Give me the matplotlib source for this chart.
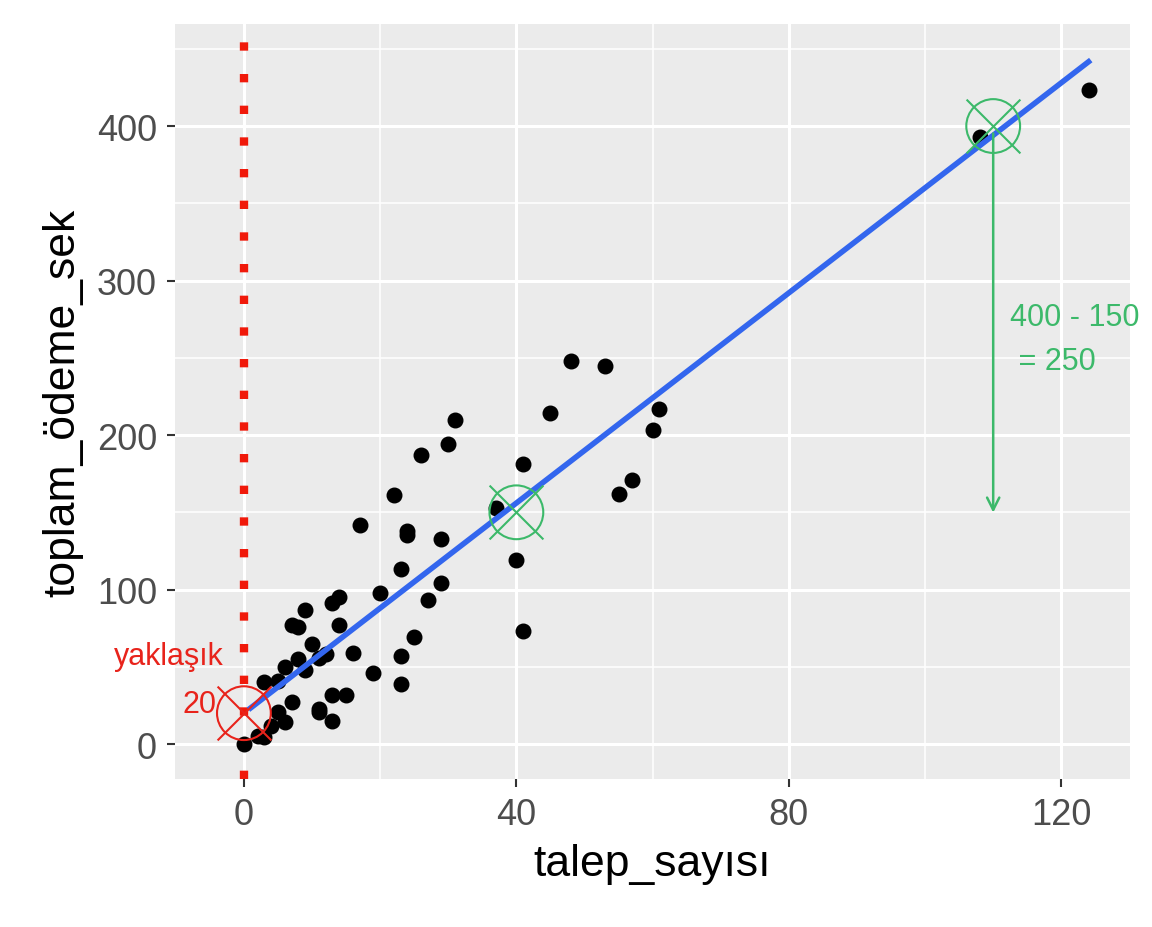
import matplotlib
matplotlib.use("Agg")
import matplotlib.pyplot as plt
import numpy as np

plt.rcParams['font.family'] = ['Liberation Sans', 'DejaVu Sans']

x = [0,3,2,4,6,5,7,3,5,6,8,9,10,11,12,7,8,9,14,13,14,11,11,13,15,13,16,19,20,23,23,25,27,29,23,29,24,24,17,22,26,30,31,37,40,41,41,45,48,53,55,57,61,60,108,124]
y = [0,4.5,5,12,14,21,27,40,41,50,55,48,65,56,58,77,76,87,77,91,95,23,21,32,32,15,59,46,98,39,57,69,93,104,113,133,138,135,142,161,187,194,210,153,119,73,181,214,248,245,162,171,217,203,393,423]
intercept, slope = 20, 3.4
line_x = [1, 124]
marks_x = [0, 40, 110]
marks_y = [20, 150, 400]
marks_c = ["#e8231b", "#3cb96a", "#3cb96a"]

fig = plt.figure(figsize=(11.52, 9.28), dpi=100)
ax = fig.add_axes([0.152, 0.1595, 0.829, 0.8135])
ax.set_facecolor("#ebebeb")
ax.set_xlim(-10.1, 130.1)
ax.set_ylim(-22.6, 466)
ax.set_xticks([0, 40, 80, 120])
ax.set_yticks([0, 100, 200, 300, 400])
ax.set_xticks([20, 60, 100], minor=True)
ax.set_yticks([50, 150, 250, 350, 450], minor=True)
ax.grid(which="major", color="white", lw=2.2)
ax.grid(which="minor", color="white", lw=1.1)
ax.set_axisbelow(True)
for s in ax.spines.values():
    s.set_visible(False)
ax.tick_params(which="major", length=6, width=1.5, color="#333333", labelsize=26,
               labelcolor="#4d4d4d", pad=7)
ax.tick_params(which="minor", length=0)
ax.set_xlabel("talep_sayısı", fontsize=32, labelpad=8)
ax.set_ylabel("toplam_ödeme_sek", fontsize=32, labelpad=10)

ax.axvline(0, color="#f0190a", lw=6, ls=(0, (1, 2.8)), zorder=1)
ax.scatter(x, y, s=110, color="black", zorder=3)
lx = np.array(line_x)
ax.plot(lx, intercept + slope * lx, color="#3366ee", lw=4, zorder=4)
for mx, my, c in zip(marks_x, marks_y, marks_c):
    ax.scatter([mx], [my], s=1500, facecolors="none", edgecolors=c, lw=1.5, zorder=5)
    ax.scatter([mx], [my], s=1500, marker="x", color=c, lw=1.5, zorder=5)
ax.annotate("", xy=(110, 148), xytext=(110, 397),
            arrowprops=dict(arrowstyle="->", color="#3cb96a", lw=1.8, mutation_scale=22), zorder=5)
ax.text(112.5, 262, "400 - 150\n = 250", color="#3cb96a", fontsize=22, ha="left", va="center",
        linespacing=1.6, clip_on=False)
ax.text(-3, 57, "yaklaşık", color="#e8231b", fontsize=22, ha="right", va="center")
ax.text(-4, 26, "20", color="#e8231b", fontsize=22, ha="right", va="center")
fig.savefig("out.png", dpi=100)
